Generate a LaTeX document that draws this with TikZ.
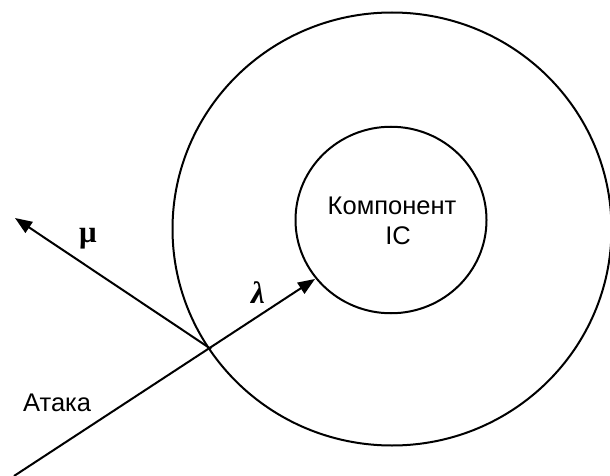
\documentclass[tikz,border=0pt]{standalone}
\usepackage{fontspec}
\setmainfont{Liberation Sans}
\newfontfamily\greekfont{Liberation Serif}
\usetikzlibrary{arrows.meta,shapes.geometric}
\begin{document}
\begin{tikzpicture}[x=1pt,y=-1pt,
  ring/.style={ellipse,draw,line width=2pt,inner sep=0pt},
  conn/.style={line width=2pt,-{Triangle[length=17pt,width=13pt]}},
  lbl/.style={font=\fontsize{25.5}{30}\selectfont,inner sep=0pt},
  glbl/.style={font=\fontsize{31}{34}\selectfont\greekfont\bfseries,inner sep=0pt}]
\useasboundingbox (0,0) rectangle (610,476);
\node[ring,minimum width=439pt,minimum height=433pt] (outer) at (392,229) {};
\node[ring,minimum width=191pt,minimum height=186.5pt] (inner) at (391,220) {};
\node[lbl,align=center] (comp) at (392,221) {Компонент\\\hspace*{12pt}IC};
\coordinate (src) at (14,476);
\coordinate (cross) at (211,349);
\coordinate (tipl) at (315,279);
\coordinate (tipm) at (15,218);
\draw[conn] (src) -- (tipl);
\draw[conn] (cross) -- (tipm);
\node[glbl] (mu) at (88,239) {μ};
\node[glbl,font=\fontsize{31}{34}\selectfont\greekfont\bfseries\itshape] (lam) at (258,293) {λ};
\node[lbl,anchor=west] (attack) at (23,403) {Атака};
\end{tikzpicture}
\end{document}
